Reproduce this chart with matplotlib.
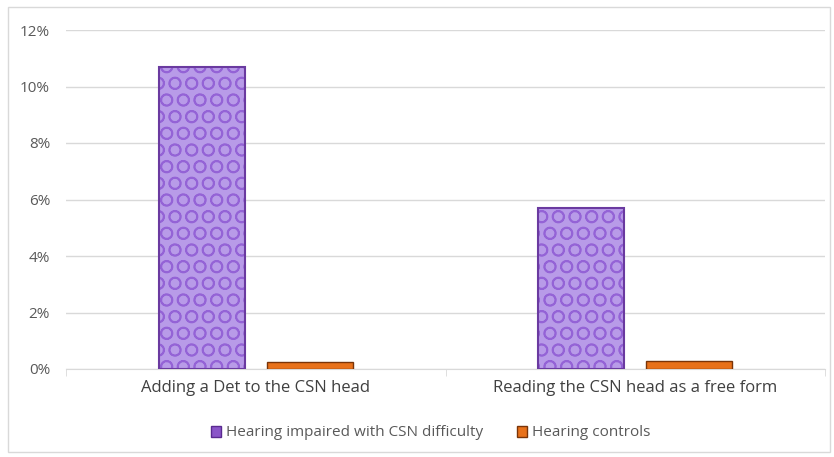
import matplotlib
matplotlib.use("Agg")
import matplotlib.pyplot as plt
import numpy as np
from matplotlib.patches import Rectangle, Patch

plt.rcParams['font.family'] = ['Open Sans', 'DejaVu Sans']
plt.rcParams['hatch.linewidth'] = 1.2

# data
categories = ["Adding a Det to the CSN head", "Reading the CSN head as a free form"]
impaired = [10.7, 5.7]
controls = [0.25, 0.28]
series_names = ["Hearing impaired with CSN difficulty", "Hearing controls"]
yticks = [0, 2, 4, 6, 8, 10, 12]

fig = plt.figure(figsize=(8.34, 4.57), dpi=100)
# light outer frame like the office chart border
fig.patches.append(Rectangle((0.009, 0.011), 0.986, 0.973, transform=fig.transFigure,
                             fill=False, edgecolor="#d9d9d9", linewidth=1))
ax = fig.add_axes([66 / 834, 1 - 369 / 457, (825 - 66) / 834, (369 - 30) / 457])

x = np.arange(len(categories))
w = 0.227
off = 0.1425

# patterned purple bars: fill with a hatch, then a darker outline on top
ax.bar(x - off, impaired, w, color="#b89be8", edgecolor="#9463d6",
       linewidth=0, hatch="O", zorder=3)
ax.bar(x - off, impaired, w, fill=False, edgecolor="#6a3aa0",
       linewidth=1.5, zorder=4)
ax.bar(x + off, controls, w, color="#e8711a", edgecolor="#7a3408",
       linewidth=1.0, zorder=3)

ax.set_xlim(-0.5, 1.5)
ax.set_ylim(0, 12)
ax.set_yticks(yticks)
ax.set_yticklabels([f"{t}%" for t in yticks])
ax.set_xticks(x)
ax.set_xticklabels(categories)
ax.grid(axis="y", color="#d9d9d9", linewidth=1, zorder=0)
for s in ["top", "right", "left"]:
    ax.spines[s].set_visible(False)
ax.spines["bottom"].set_color("#d9d9d9")
ax.tick_params(axis="y", length=0, pad=11.5, labelsize=11, labelcolor="#595959")
ax.tick_params(axis="x", length=0, pad=8, labelsize=12, labelcolor="#404040")
# category separator ticks
ax.set_xticks([-0.5, 0.5, 1.5], minor=True)
ax.tick_params(axis="x", which="minor", length=5, color="#d9d9d9")

handles = [Patch(facecolor="#8a55c8", edgecolor="#5a2a90"),
           Patch(facecolor="#e8711a", edgecolor="#7a3408")]
fig.legend(handles, series_names, loc="center", bbox_to_anchor=(0.516, 1 - 433 / 457),
           ncol=2, frameon=False, fontsize=11, handlelength=0.7, handleheight=0.7,
           handletextpad=0.3, columnspacing=2.2, labelcolor="#595959")

fig.savefig("out.png", dpi=100)
